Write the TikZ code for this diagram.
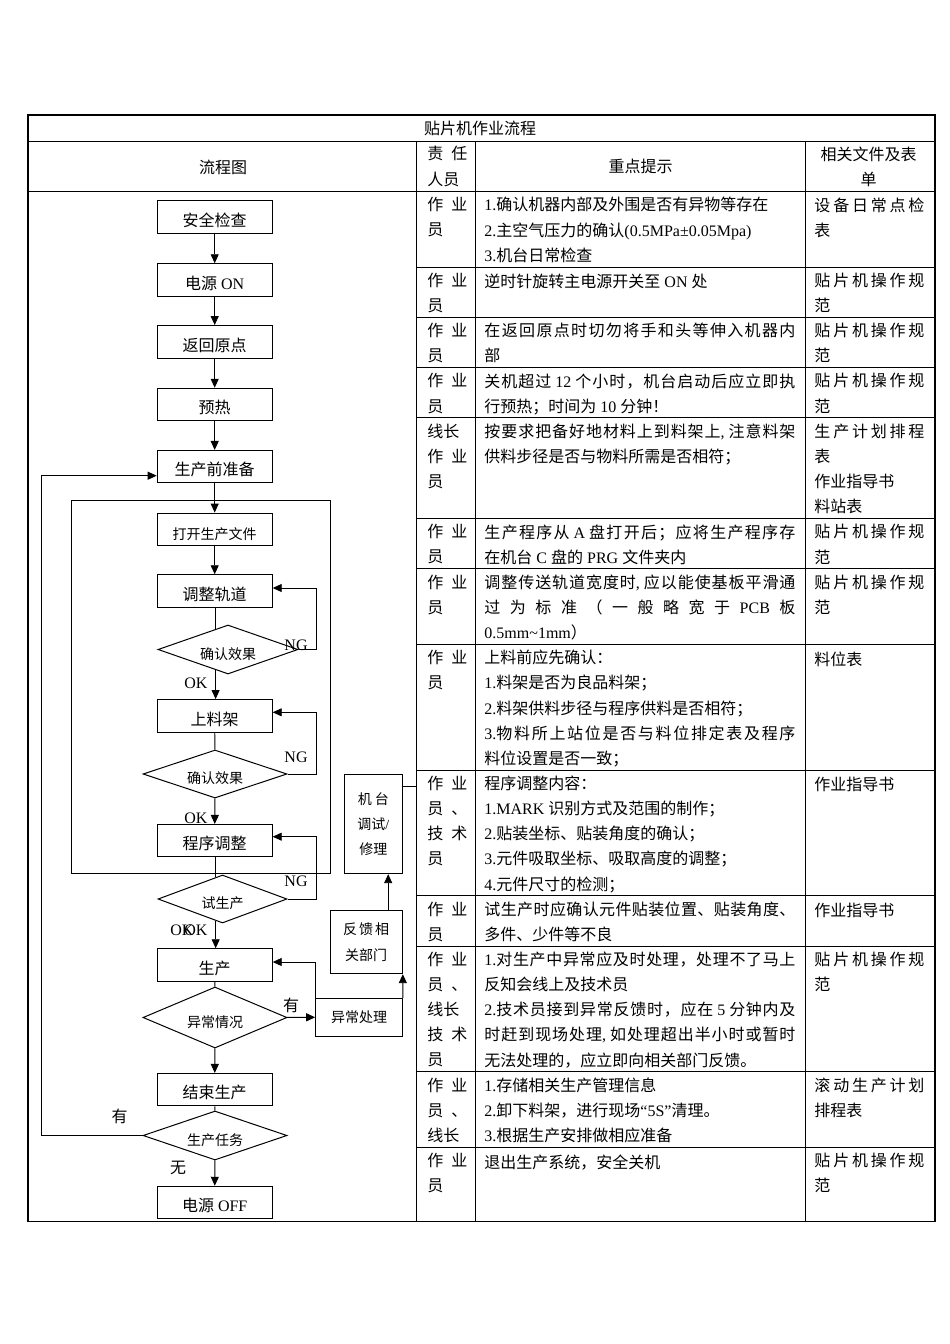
\documentclass[tikz,border=0pt]{standalone}
\usepackage{fontspec}
\setmainfont{Liberation Serif}
\newfontfamily\cjkfont{Noto Sans CJK SC}
\usetikzlibrary{arrows.meta,%
                shapes.geometric,%
                calc}
\usetikzlibrary{positioning}

% switch between the Latin and the CJK font
\XeTeXinterchartokenstate=1
\newXeTeXintercharclass\cjkcls
\newcount\cjkcnt
\def\cjkrange#1#2{\cjkcnt=#1\relax
  \loop\XeTeXcharclass\cjkcnt=\cjkcls\relax
  \ifnum\cjkcnt<#2\relax\advance\cjkcnt by 1\relax\repeat}
\cjkrange{"3000}{"303F}
\cjkrange{"4E00}{"9FFF}
\cjkrange{"FF00}{"FFEF}
\def\jg{}
\XeTeXinterchartoks 0 \cjkcls = {\cjkfont}
\XeTeXinterchartoks 4095 \cjkcls = {\cjkfont}
\XeTeXinterchartoks \cjkcls 0 = {\rmfamily}
\XeTeXinterchartoks \cjkcls 4095 = {\rmfamily}
\XeTeXinterchartoks \cjkcls \cjkcls = {\jg}
% justified line
\newcommand\jl[2]{\makebox[#1pt][s]{\def\jg{\hskip0pt plus 1fil}#2}}
\newcommand\tabfont{\fontsize{16}{25.15}\selectfont}
\newcommand\flowfont{\fontsize{16}{20}\selectfont}
\newcommand\smallfont{\fontsize{14}{17}\selectfont}

\begin{document}
\begin{tikzpicture}[x=1pt, y=-1pt, line width=0.9pt]
        \tikzset{
          stepbox/.style={draw, line width=1pt, minimum width=115pt, minimum height=32.5pt, inner sep=0pt,
            text height=20pt, text depth=1.5pt, font=\flowfont},
          sidebox/.style={draw, line width=1pt, inner sep=0pt, font=\smallfont},
          decide/.style={draw, line width=1pt, diamond, shape aspect=3, minimum width=144pt, minimum height=48pt,
            inner sep=0pt, text height=21pt, text depth=1.3pt, font=\smallfont},
          lab/.style={inner sep=0pt, font=\flowfont},
          cell/.style={anchor=north west, inner sep=0pt, align=left, font=\tabfont,
            execute at begin node={\rule{0pt}{15pt}}},
          flow/.style={-{Triangle[length=9pt,width=8pt]}},
        }
        \useasboundingbox (0,0) rectangle (950,1344);
        \fill[white] (0,0) rectangle (950,1344);
        % table
        \draw[line width=1.1pt] (28,115) rectangle (935,1221.7);
        \draw (28,141) -- (935,141);
        \draw (28,191.5) -- (935,191.5);
        \foreach \c in {416,475,805}
          \draw (\c,141) -- (\c,1221.7);
        \foreach \r in {266.95,317.25,367.55,417.85,518.45,568.75,644.2,769.95,895.7,945.95,1071.7,1147.2}
          \draw (416,\r) -- (935,\r);
        \node[lab] (title) at (480,128.5) {贴片机作业流程};
        \node[lab] (hflow) at (223,167) {流程图};
        \node[cell] (hwho) at (427,146) {\jl{40}{责任}\\人员};
        \node[lab] (hnote) at (640.5,166.5) {重点提示};
        \node[cell, anchor=north, align=center] (hdoc) at (868.5,146) {相关文件及表\\单};
        % 
        \node[cell] (w1) at (427,197) {\jl{40}{作业}\\员};
        \node[cell] (n1) at (484,197) {1.确认机器内部及外围是否有异物等存在\\2.主空气压力的确认(0.5MPa±0.05Mpa)\\3.机台日常检查};
        \node[cell] (d1) at (814,197) {\jl{110}{设备日常点检}\\表};
        \node[cell] (w2) at (427,272.5) {\jl{40}{作业}\\员};
        \node[cell] (n2) at (484,272.5) {逆时针旋转主电源开关至 ON 处};
        \node[cell] (d2) at (814,272.5) {\jl{110}{贴片机操作规}\\范};
        \node[cell] (w3) at (427,322.8) {\jl{40}{作业}\\员};
        \node[cell] (n3) at (484,322.8) {\jl{311}{在返回原点时切勿将手和头等伸入机器内}\\部};
        \node[cell] (d3) at (814,322.8) {\jl{110}{贴片机操作规}\\范};
        \node[cell] (w4) at (427,373.1) {\jl{40}{作业}\\员};
        \node[cell] (n4) at (484,373.1) {\jl{311}{关机超过 12 个小时，机台启动后应立即执}\\行预热；时间为 10 分钟！};
        \node[cell] (d4) at (814,373.1) {\jl{110}{贴片机操作规}\\范};
        \node[cell] (w5) at (427,423.4) {线长\\\jl{40}{作业}\\员};
        \node[cell] (n5) at (484,423.4) {\jl{311}{按要求把备好地材料上到料架上, 注意料架}\\供料步径是否与物料所需是否相符；};
        \node[cell] (d5) at (814,423.4) {\jl{110}{生产计划排程}\\表\\作业指导书\\料站表};
        \node[cell] (w6) at (427,524) {\jl{40}{作业}\\员};
        \node[cell] (n6) at (484,524) {\jl{311}{生产程序从 A 盘打开后；应将生产程序存}\\在机台 C 盘的 PRG 文件夹内};
        \node[cell] (d6) at (814,524) {\jl{110}{贴片机操作规}\\范};
        \node[cell] (w7) at (427,574.3) {\jl{40}{作业}\\员};
        \node[cell] (n7) at (484,574.3) {\jl{311}{调整传送轨道宽度时, 应以能使基板平滑通}\\\jl{311}{过为标准（一般略宽于\hfil PCB\hfil 板}\\0.5mm\textasciitilde 1mm）};
        \node[cell] (d7) at (814,574.3) {\jl{110}{贴片机操作规}\\范};
        \node[cell] (w8) at (427,649.7) {\jl{40}{作业}\\员};
        \node[cell] (n8) at (484,649.7) {上料前应先确认：\\1.料架是否为良品料架；\\2.料架供料步径与程序供料是否相符；\\\jl{311}{3.物料所上站位是否与料位排定表及程序}\\料位设置是否一致；};
        \node[cell] (d8) at (814,649.7) {料位表};
        \node[cell] (w9) at (427,775.5) {\jl{40}{作业}\\\jl{40}{员、}\\\jl{40}{技术}\\员};
        \node[cell] (n9) at (484,775.5) {程序调整内容：\\1.MARK 识别方式及范围的制作；\\2.贴装坐标、贴装角度的确认；\\3.元件吸取坐标、吸取高度的调整；\\4.元件尺寸的检测；};
        \node[cell] (d9) at (814,775.5) {作业指导书};
        \node[cell] (w10) at (427,901.2) {\jl{40}{作业}\\员};
        \node[cell] (n10) at (484,901.2) {\jl{311}{试生产时应确认元件贴装位置、贴装角度、}\\多件、少件等不良};
        \node[cell] (d10) at (814,901.2) {作业指导书};
        \node[cell] (w11) at (427,951.5) {\jl{40}{作业}\\\jl{40}{员、}\\线长\\\jl{40}{技术}\\员};
        \node[cell] (n11) at (484,951.5) {\jl{311}{1.对生产中异常应及时处理，处理不了马上}\\反知会线上及技术员\\\jl{311}{2.技术员接到异常反馈时，应在 5 分钟内及}\\\jl{311}{时赶到现场处理, 如处理超出半小时或暂时}\\无法处理的，应立即向相关部门反馈。};
        \node[cell] (d11) at (814,951.5) {\jl{110}{贴片机操作规}\\范};
        \node[cell] (w12) at (427,1077.2) {\jl{40}{作业}\\\jl{40}{员、}\\线长};
        \node[cell] (n12) at (484,1077.2) {1.存储相关生产管理信息\\2.卸下料架，进行现场“5S”清理。\\3.根据生产安排做相应准备};
        \node[cell] (d12) at (814,1077.2) {\jl{110}{滚动生产计划}\\排程表};
        \node[cell] (w13) at (427,1152.7) {\jl{40}{作业}\\员};
        \node[cell] (n13) at (484,1152.7) {退出生产系统，安全关机};
        \node[cell] (d13) at (814,1152.7) {\jl{110}{贴片机操作规}\\范};
        % flow chart
        \node[draw, minimum width=259pt, minimum height=373.7pt, inner sep=0pt] (loopframe) at (200.8,686.85) {};
        \node[stepbox] (safe) at (214.7,217) {安全检查};
        \node[stepbox] (poweron) at (214.7,280) {电源 ON};
        \node[stepbox] (home) at (214.7,341.8) {返回原点\hspace{20pt}};
        \node[stepbox] (heat) at (214.7,404.5) {预热};
        \node[stepbox] (prep) at (214.7,466.7) {生产前准备\hspace{5pt}};
        \node[stepbox, font=\smallfont, text height=21pt] (openfile) at (214.7,529.3) {打开生产文件};
        \node[stepbox] (track) at (214.7,591) {调整轨道};
        \node[decide, minimum width=140pt, minimum height=49pt] (check1) at (228,649.5) {确认效果};
        \node[stepbox] (rack) at (214.7,715.8) {上料架};
        \node[decide] (check2) at (215,774) {确认效果};
        \node[stepbox] (prog) at (214.7,840.7) {程序调整};
        \node[decide, minimum width=129pt] (trial) at (222.5,899) {试生产};
        \node[stepbox] (prod) at (214.7,965) {生产};
        \node[decide, minimum height=61pt] (abnormal) at (215,1017.5) {异常情况};
        \node[stepbox] (finish) at (214.7,1089.7) {结束生产};
        \node[decide, minimum height=49pt] (task) at (215,1135.5) {生产任务};
        \node[stepbox] (poweroff) at (214.7,1202.5) {电源 OFF};
        \node[sidebox, minimum width=86.6pt, minimum height=37.7pt] (handle) at (359,1017.2) {异常处理};
        \node[sidebox, minimum width=72.3pt, minimum height=62.7pt, align=center, font=\fontsize{14}{25.7}\selectfont] (feedback) at (366.2,942.3) {\jl{46}{反馈相}\\关部门};
        \node[sidebox, minimum width=58pt, minimum height=98.7pt, align=center, font=\fontsize{14}{24.7}\selectfont] (machine) at (373.3,824.3) {\jl{31}{机台}\\调试/\\修理};
        % labels
        \node[lab] (ng1) at (296,645) {NG};
        \node[lab] (ng2) at (296,757) {NG};
        \node[lab] (ng3) at (296,881) {NG};
        \node[lab] (ok1) at (196,683) {OK};
        \node[lab] (ok2) at (196,818) {OK};
        \node[lab] (ok3) at (182,930) {OK};
        \node[lab] (ok4) at (196,930) {OK};
        \node[lab] (yes1) at (291,1005) {有};
        \node[lab] (yes2) at (119.7,1116.7) {有};
        \node[lab] (none) at (178,1168.3) {无};
        % 
        \coordinate (c1in) at ($(check1.west)!0.824!(check1.north)$);
        \coordinate (c1out) at ($(check1.west)!0.824!(check1.south)$);
        \coordinate (tin) at ($(trial.west)!0.895!(trial.north)$);
        \coordinate (tout) at ($(trial.west)!0.895!(trial.south)$);
        \coordinate (fbtop) at ($(feedback.north)!0.6!(feedback.north east)$);
        \coordinate (tabline) at (416,786.7);
        % 
        \draw[flow] (safe) -- (poweron);
        \draw[flow] (poweron) -- (home);
        \draw[flow] (home) -- (heat);
        \draw[flow] (heat) -- (prep);
        \draw[flow] (prep) -- (openfile);
        \draw[flow] (openfile) -- (track);
        \draw (track.south -| c1in) -- (c1in);
        \draw[flow] (c1out) -- (c1out |- rack.north);
        \draw[flow] (check1.east) -- ++(17.7,0) |- ([yshift=3pt]track.east);
        \draw (rack) -- (check2);
        \draw[flow] (check2) -- (prog);
        \draw[flow] (check2.east) -- ++(28.7,0) |- ([yshift=3.5pt]rack.east);
        \draw (prog.south -| tin) -- (tin);
        \draw[flow] (trial.east) -- ++(28.7,0) |- ([yshift=4pt]prog.east);
        \draw[flow] (tout) -- (tout |- prod.north);
        \draw (prod) -- (abnormal);
        \draw[flow] (abnormal) -- (handle);
        \draw[flow] (handle.north west) |- ([yshift=3pt]prod.east);
        \draw[flow] (handle.north east) -- (feedback.south east);
        \draw[flow] (fbtop) -- (fbtop |- machine.south);
        \draw (machine.east |- tabline) -- (tabline);
        \draw[flow] (abnormal) -- (finish);
        \draw (finish) -- (task);
        \draw[flow] (task) -- (poweroff);
        \draw[flow] (task.west) -- ++(-100.7,0) |- ([yshift=-9pt]prep.west);
    \end{tikzpicture}
\end{document}
